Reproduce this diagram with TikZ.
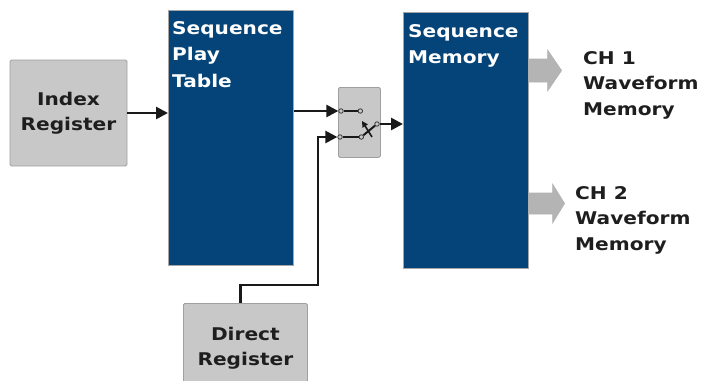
\documentclass[tikz,border=0pt]{standalone}
\usepackage{fontspec}
\setmainfont{DejaVu Sans}[FakeStretch=1.15]
\usepackage{xcolor}
\usepackage{tikz}
\usetikzlibrary{arrows.meta, positioning, calc}
\definecolor{seqblue}{RGB}{4, 68, 120}
\definecolor{regfill}{RGB}{200, 200, 200}
\definecolor{regedge}{RGB}{160, 160, 160}
\definecolor{fatfill}{RGB}{180, 180, 180}
\definecolor{labeltext}{RGB}{30, 30, 30}

\begin{document}
\begin{tikzpicture}[
    x=1pt, y=-1pt,
    regbox/.style={rectangle, rounded corners=1.5pt, draw=regedge, fill=regfill, line width=0.8pt,
                   align=center, text=labeltext, inner sep=0pt,
                   font=\bfseries\fontsize{17.5}{24.5}\selectfont},
    bluebox/.style={rectangle, draw=black!35, fill=seqblue, line width=0.6pt, inner sep=0pt},
    bluelabel/.style={align=left, text=white, inner sep=0pt,
                      font=\bfseries\fontsize{17.5}{26.5}\selectfont},
    chlabel/.style={align=left, text=labeltext, inner sep=0pt,
                    font=\bfseries\fontsize{17.5}{25.5}\selectfont},
    contact/.style={circle, draw=black!80, fill=regfill, line width=0.8pt, inner sep=0pt, minimum size=4.5pt},
    wire/.style={line width=2.6pt, color=black!90},
    arrow/.style={wire, -{Triangle[length=12pt, width=12pt]}},
    fatarrow/.style={fill=fatfill, draw=regedge!80, line width=0.6pt, line join=miter}
]
\useasboundingbox (0,0) rectangle (701,380);

% blocks
\node[regbox, minimum width=117pt, minimum height=106pt] (index) at (68.5,113) {Index\\Register};
\node[bluebox, minimum width=125pt, minimum height=255pt, anchor=north west] (playtable) at (168,10) {};
\node[bluelabel, anchor=north west] (playlabel) at (172,21) {Sequence\\Play\\Table};
\node[regbox, minimum width=42pt, minimum height=70pt, anchor=north west] (switch) at (338,87) {};
\node[bluebox, minimum width=125pt, minimum height=256pt, anchor=north west] (memory) at (403,12) {};
\node[bluelabel, anchor=north west] (memlabel) at (408,24) {Sequence\\Memory};
\node[regbox, minimum width=124pt, minimum height=90pt, anchor=north west] (direct) at (183,303) {Direct\\Register};

% switch contacts
\node[contact] (ina) at (341,111) {};
\node[contact, right=14pt of ina] (inb) {};
\node[contact] (inc) at (340,137) {};
\node[contact, right=16pt of inc] (ind) {};
\node[contact] (out) at (377,124) {};

\draw[arrow] (index.east) -- (index.east -| playtable.west);
\draw[arrow] (playtable.east |- ina) -- (ina);
\draw[wire, line width=2pt] (ina) -- (inb);
\draw[arrow] ([xshift=-5pt]direct.north) |- (318,285) |- (inc);
\draw[wire, line width=2pt] (inc) -- (ind);
\draw[wire, line width=2pt] (ind) -- (out);
\draw[wire, line width=1.6pt, -{Triangle[length=6pt, width=6pt]}] (372,137) -- (362,121);
\draw[arrow] (out) -- (out -| memory.west);

% channel outputs
\filldraw[fatarrow] (memory.east |- 0,59) -- ++(19,0) -- ++(0,-9) -- ++(14,20.5) -- ++(-14,20.5) -- ++(0,-9) -- ++(-19,0) -- cycle;
\filldraw[fatarrow] (memory.east |- 0,193) -- ++(24,0) -- ++(0,-9) -- ++(12,19.5) -- ++(-12,19.5) -- ++(0,-9) -- ++(-24,0) -- cycle;
\node[chlabel, anchor=north west] (ch1) at (583,51) {CH 1\\Waveform\\Memory};
\node[chlabel, anchor=north west] (ch2) at (575,186) {CH 2\\Waveform\\Memory};
\end{tikzpicture}
\end{document}
